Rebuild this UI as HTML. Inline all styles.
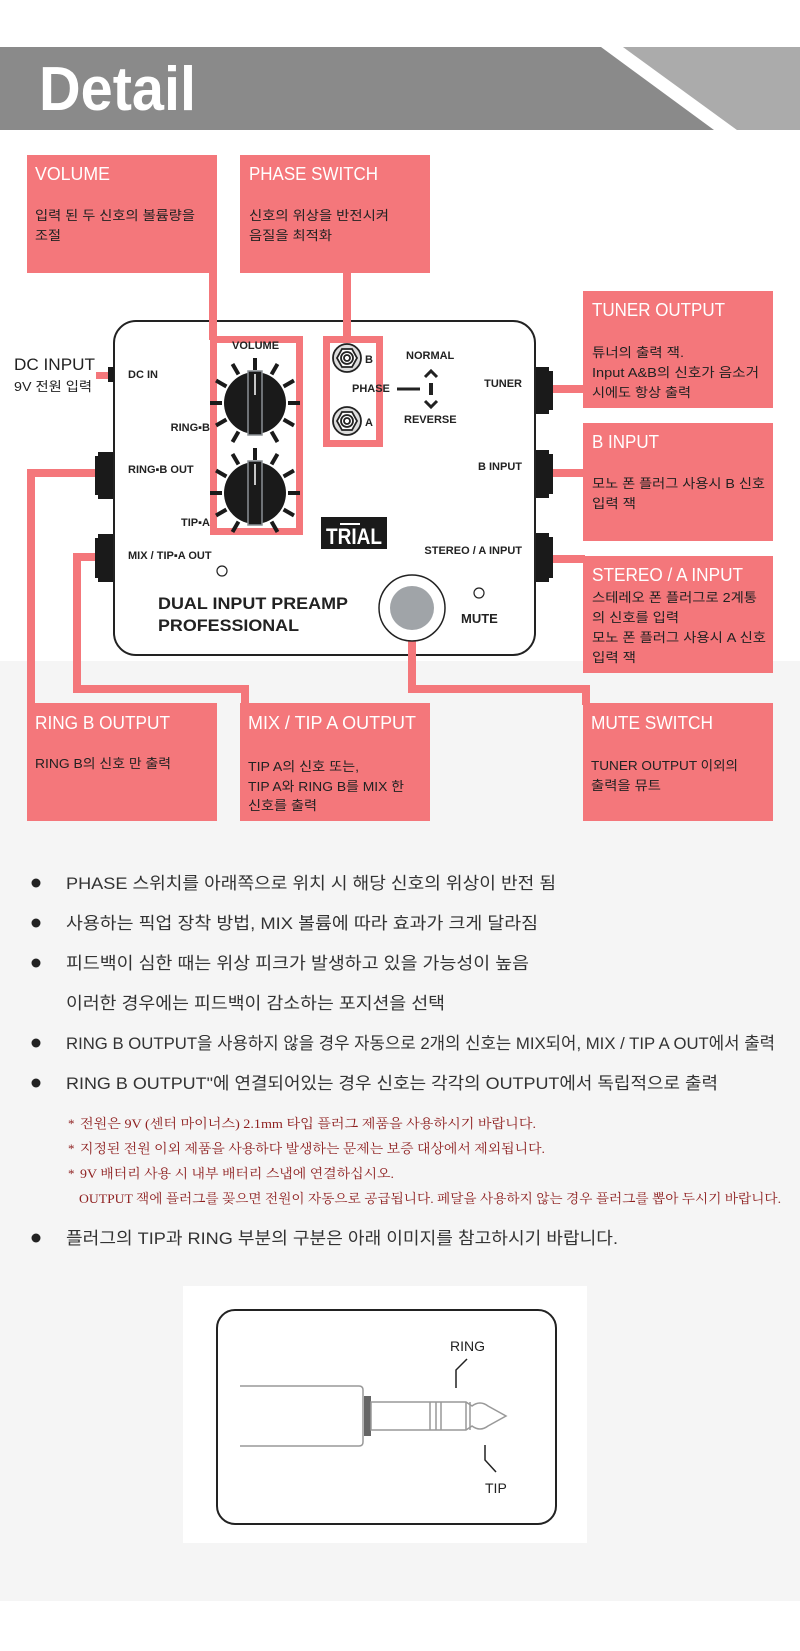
<!DOCTYPE html>
<html><head><meta charset="utf-8"><style>
html,body{margin:0;padding:0;background:#fff}
svg{display:block}
.k{font-family:"Liberation Sans","Noto Sans CJK KR",sans-serif}
.b{font-family:"Liberation Sans","Noto Sans CJK KR",sans-serif;font-weight:bold;fill:#222}
.t{font-family:"Liberation Sans","Noto Sans CJK KR",sans-serif;fill:#fff;font-size:18px}
.d{font-family:"Liberation Sans","Noto Sans CJK KR",sans-serif;fill:#222;font-size:13px}
.m{font-family:"Liberation Sans","Noto Sans CJK KR",sans-serif;fill:#333;font-size:17px}
.n{font-family:"Liberation Serif","Noto Serif CJK SC",serif;fill:#8e1f1f;font-size:13px}
</style></head><body>
<svg width="800" height="1651" viewBox="0 0 800 1651" xmlns="http://www.w3.org/2000/svg">
<rect x="0" y="0" width="800" height="1651" fill="#fff"/>
<rect x="0" y="661" width="800" height="940" fill="#f5f5f5"/>
<rect x="0" y="47" width="800" height="83" fill="#8a8a8a"/>
<polygon points="623,47 800,47 800,130 737,130" fill="#ababab"/>
<polygon points="601,47 623,47 737,130 714,130" fill="#fff"/>
<text x="39" y="110" class="k" font-size="62" font-weight="bold" fill="#fff" textLength="157" lengthAdjust="spacingAndGlyphs">Detail</text>

<g fill="#f4777b">
<rect x="209" y="270" width="8" height="70"/>
<rect x="343" y="270" width="8" height="70"/>
<rect x="545" y="385" width="40" height="8"/>
<rect x="552" y="469" width="33" height="8"/>
<rect x="552" y="555" width="33" height="8"/>
<rect x="27" y="469" width="72" height="8"/>
<rect x="27" y="469" width="8" height="236"/>
<rect x="73" y="553" width="26" height="8"/>
<rect x="73" y="553" width="8" height="140"/>
<rect x="73" y="685" width="176" height="8"/>
<rect x="241" y="685" width="8" height="20"/>
<rect x="408" y="640" width="8" height="53"/>
<rect x="408" y="685" width="182" height="8"/>
<rect x="582" y="685" width="8" height="20"/>
<rect x="96" y="372" width="14" height="7"/>
<rect x="27" y="155" width="190" height="118"/>
<rect x="240" y="155" width="190" height="118"/>
<rect x="583" y="291" width="190" height="117"/>
<rect x="583" y="423" width="190" height="118"/>
<rect x="583" y="556" width="190" height="117"/>
<rect x="27" y="703" width="190" height="118"/>
<rect x="240" y="703" width="190" height="118"/>
<rect x="583" y="703" width="190" height="118"/>
</g>
<text x="35" y="180" class="t" textLength="75" lengthAdjust="spacingAndGlyphs">VOLUME</text>
<text x="35" y="220" class="d" textLength="160" lengthAdjust="spacingAndGlyphs">입력 된 두 신호의 볼륨량을</text>
<text x="35" y="240" class="d" textLength="26" lengthAdjust="spacingAndGlyphs">조절</text>
<text x="249" y="180" class="t" textLength="129" lengthAdjust="spacingAndGlyphs">PHASE SWITCH</text>
<text x="249" y="220" class="d" textLength="140" lengthAdjust="spacingAndGlyphs">신호의 위상을 반전시켜</text>
<text x="249" y="240" class="d" textLength="83" lengthAdjust="spacingAndGlyphs">음질을 최적화</text>
<text x="592" y="316" class="t" textLength="133" lengthAdjust="spacingAndGlyphs">TUNER OUTPUT</text>
<text x="592" y="357" class="d" textLength="92" lengthAdjust="spacingAndGlyphs">튜너의 출력 잭.</text>
<text x="592" y="377" class="d" textLength="167" lengthAdjust="spacingAndGlyphs">Input A&amp;B의 신호가 음소거</text>
<text x="592" y="397" class="d" textLength="99" lengthAdjust="spacingAndGlyphs">시에도 항상 출력</text>
<text x="592" y="448" class="t" textLength="67" lengthAdjust="spacingAndGlyphs">B INPUT</text>
<text x="592" y="488" class="d" textLength="173" lengthAdjust="spacingAndGlyphs">모노 폰 플러그 사용시 B 신호</text>
<text x="592" y="508" class="d" textLength="44" lengthAdjust="spacingAndGlyphs">입력 잭</text>
<text x="592" y="581" class="t" textLength="151" lengthAdjust="spacingAndGlyphs">STEREO / A INPUT</text>
<text x="592" y="602" class="d" textLength="165" lengthAdjust="spacingAndGlyphs">스테레오 폰 플러그로 2계통</text>
<text x="592" y="622" class="d" textLength="87" lengthAdjust="spacingAndGlyphs">의 신호를 입력</text>
<text x="592" y="642" class="d" textLength="174" lengthAdjust="spacingAndGlyphs">모노 폰 플러그 사용시 A 신호</text>
<text x="592" y="662" class="d" textLength="44" lengthAdjust="spacingAndGlyphs">입력 잭</text>
<text x="35" y="729" class="t" textLength="135" lengthAdjust="spacingAndGlyphs">RING B OUTPUT</text>
<text x="35" y="768" class="d" textLength="136" lengthAdjust="spacingAndGlyphs">RING B의 신호 만 출력</text>
<text x="248" y="729" class="t" textLength="168" lengthAdjust="spacingAndGlyphs">MIX / TIP A OUTPUT</text>
<text x="248" y="771" class="d" textLength="111" lengthAdjust="spacingAndGlyphs">TIP A의 신호 또는,</text>
<text x="248" y="791" class="d" textLength="156" lengthAdjust="spacingAndGlyphs">TIP A와 RING B를 MIX 한</text>
<text x="248" y="810" class="d" textLength="69" lengthAdjust="spacingAndGlyphs">신호를 출력</text>
<text x="591" y="729" class="t" textLength="122" lengthAdjust="spacingAndGlyphs">MUTE SWITCH</text>
<text x="591" y="770" class="d" textLength="147" lengthAdjust="spacingAndGlyphs">TUNER OUTPUT 이외의</text>
<text x="591" y="790" class="d" textLength="70" lengthAdjust="spacingAndGlyphs">출력을 뮤트</text>

<text x="14" y="370" class="k" font-size="17" fill="#222" textLength="81" lengthAdjust="spacingAndGlyphs">DC INPUT</text>
<text x="14" y="391" class="k" font-size="13" fill="#222" textLength="78" lengthAdjust="spacingAndGlyphs">9V 전원 입력</text>

<rect x="114" y="321" width="421" height="334" rx="22" fill="#fff" stroke="#222" stroke-width="2"/>
<rect x="209" y="320" width="8" height="20" fill="#f4777b"/>
<rect x="343" y="320" width="8" height="20" fill="#f4777b"/>
<rect x="408" y="640" width="8" height="16" fill="#f4777b"/>
<rect x="213.5" y="339.5" width="86" height="192" fill="none" stroke="#f4777b" stroke-width="7"/>
<rect x="326.5" y="339.5" width="53" height="104" fill="none" stroke="#f4777b" stroke-width="7"/>
<g fill="#1a1a1a">
<rect x="108" y="367" width="6" height="15"/>
<rect x="98" y="452" width="15" height="47"/><rect x="95" y="456" width="4" height="39"/>
<rect x="98" y="534" width="15" height="48"/><rect x="95" y="538" width="4" height="40"/>
<rect x="536" y="367" width="13" height="47"/><rect x="549" y="371" width="4" height="39"/>
<rect x="536" y="450" width="13" height="48"/><rect x="549" y="454" width="4" height="40"/>
<rect x="536" y="533" width="13" height="49"/><rect x="549" y="537" width="4" height="41"/>
</g>
<g stroke="#1a1a1a" stroke-width="4">
<g transform="translate(255,403)">
<line x1="0" y1="-33" x2="0" y2="-45" transform="rotate(0)"/>
<line x1="0" y1="-33" x2="0" y2="-45" transform="rotate(30)"/>
<line x1="0" y1="-33" x2="0" y2="-45" transform="rotate(60)"/>
<line x1="0" y1="-33" x2="0" y2="-45" transform="rotate(90)"/>
<line x1="0" y1="-33" x2="0" y2="-45" transform="rotate(120)"/>
<line x1="0" y1="-33" x2="0" y2="-45" transform="rotate(150)"/>
<line x1="0" y1="-33" x2="0" y2="-45" transform="rotate(-30)"/>
<line x1="0" y1="-33" x2="0" y2="-45" transform="rotate(-60)"/>
<line x1="0" y1="-33" x2="0" y2="-45" transform="rotate(-90)"/>
<line x1="0" y1="-33" x2="0" y2="-45" transform="rotate(-120)"/>
<line x1="0" y1="-33" x2="0" y2="-45" transform="rotate(-150)"/>
<circle r="31" fill="#1a1a1a" stroke="none"/>
<rect x="-7" y="-32" width="14" height="64" fill="#1a1a1a" stroke="#8a8f94" stroke-width="1.5"/>
<line x1="0" y1="-29" x2="0" y2="-8" stroke="#fff" stroke-width="1.5"/>
</g>
<g transform="translate(255,493)">
<line x1="0" y1="-33" x2="0" y2="-45" transform="rotate(0)"/>
<line x1="0" y1="-33" x2="0" y2="-45" transform="rotate(30)"/>
<line x1="0" y1="-33" x2="0" y2="-45" transform="rotate(60)"/>
<line x1="0" y1="-33" x2="0" y2="-45" transform="rotate(90)"/>
<line x1="0" y1="-33" x2="0" y2="-45" transform="rotate(120)"/>
<line x1="0" y1="-33" x2="0" y2="-45" transform="rotate(150)"/>
<line x1="0" y1="-33" x2="0" y2="-45" transform="rotate(-30)"/>
<line x1="0" y1="-33" x2="0" y2="-45" transform="rotate(-60)"/>
<line x1="0" y1="-33" x2="0" y2="-45" transform="rotate(-90)"/>
<line x1="0" y1="-33" x2="0" y2="-45" transform="rotate(-120)"/>
<line x1="0" y1="-33" x2="0" y2="-45" transform="rotate(-150)"/>
<circle r="31" fill="#1a1a1a" stroke="none"/>
<rect x="-7" y="-32" width="14" height="64" fill="#1a1a1a" stroke="#8a8f94" stroke-width="1.5"/>
<line x1="0" y1="-29" x2="0" y2="-8" stroke="#fff" stroke-width="1.5"/>
</g>
</g>
<g fill="none" stroke="#222" stroke-width="1.8">
<circle cx="347" cy="358" r="14" fill="#ddd"/>
<polygon points="357,358 352,367 342,367 337,358 342,349 352,349" fill="#fff"/>
<circle cx="347" cy="358" r="6"/><circle cx="347" cy="358" r="3"/>
<circle cx="347" cy="421" r="14" fill="#ddd"/>
<polygon points="357,421 352,430 342,430 337,421 342,412 352,412" fill="#fff"/>
<circle cx="347" cy="421" r="6"/><circle cx="347" cy="421" r="3"/>
</g>
<g class="b" font-size="11">
<text x="232" y="349">VOLUME</text>
<text x="128" y="378">DC IN</text>
<text x="210" y="431" text-anchor="end">RING▪B</text>
<text x="128" y="473">RING▪B OUT</text>
<text x="210" y="526" text-anchor="end">TIP▪A</text>
<text x="128" y="559">MIX / TIP▪A OUT</text>
<text x="365" y="363">B</text>
<text x="365" y="426">A</text>
<text x="352" y="392">PHASE</text>
<text x="406" y="359">NORMAL</text>
<text x="404" y="423">REVERSE</text>
<text x="522" y="387" text-anchor="end">TUNER</text>
<text x="522" y="470" text-anchor="end">B  INPUT</text>
<text x="522" y="554" text-anchor="end">STEREO / A  INPUT</text>
</g>
<line x1="397" y1="389" x2="420" y2="389" stroke="#222" stroke-width="3"/>
<line x1="431" y1="383" x2="431" y2="395" stroke="#222" stroke-width="4"/>
<polyline points="425,377 431,371 437,377" fill="none" stroke="#222" stroke-width="3"/>
<polyline points="425,401 431,407 437,401" fill="none" stroke="#222" stroke-width="3"/>
<circle cx="222" cy="571" r="5" fill="#fff" stroke="#222" stroke-width="1.2"/>
<circle cx="479" cy="593" r="5" fill="#fff" stroke="#222" stroke-width="1.2"/>
<text x="158" y="609" class="b" font-size="17" textLength="190" lengthAdjust="spacingAndGlyphs">DUAL INPUT PREAMP</text>
<text x="158" y="631" class="b" font-size="17" textLength="141" lengthAdjust="spacingAndGlyphs">PROFESSIONAL</text>
<text x="461" y="623" class="b" font-size="13">MUTE</text>
<circle cx="412" cy="608" r="33" fill="#fff" stroke="#222" stroke-width="1.5"/>
<circle cx="412" cy="608" r="22" fill="#a0a4a8"/>
<rect x="321" y="517" width="66" height="32" fill="#1a1a1a"/>
<text x="354" y="544" text-anchor="middle" class="k" font-size="22" font-weight="bold" fill="#fff" textLength="56" lengthAdjust="spacingAndGlyphs">TRIAL</text>
<line x1="340" y1="524" x2="360" y2="524" stroke="#fff" stroke-width="2"/>

<g fill="#222">
<circle cx="36" cy="883" r="4.5"/><circle cx="36" cy="923" r="4.5"/><circle cx="36" cy="963" r="4.5"/>
<circle cx="36" cy="1043" r="4.5"/><circle cx="36" cy="1083" r="4.5"/><circle cx="36" cy="1238" r="4.5"/>
</g>
<text x="66" y="889" class="m" textLength="490" lengthAdjust="spacingAndGlyphs">PHASE 스위치를 아래쪽으로 위치 시 해당 신호의 위상이 반전 됨</text>
<text x="66" y="929" class="m" textLength="472" lengthAdjust="spacingAndGlyphs">사용하는 픽업 장착 방법, MIX 볼륨에 따라 효과가 크게 달라짐</text>
<text x="66" y="969" class="m" textLength="463" lengthAdjust="spacingAndGlyphs">피드백이 심한 때는 위상 피크가 발생하고 있을 가능성이 높음</text>
<text x="66" y="1009" class="m" textLength="379" lengthAdjust="spacingAndGlyphs">이러한 경우에는 피드백이 감소하는 포지션을 선택</text>
<text x="66" y="1049" class="m" textLength="709" lengthAdjust="spacingAndGlyphs">RING B OUTPUT을 사용하지 않을 경우 자동으로 2개의 신호는 MIX되어, MIX / TIP A OUT에서 출력</text>
<text x="66" y="1089" class="m" textLength="652" lengthAdjust="spacingAndGlyphs">RING B OUTPUT"에 연결되어있는 경우 신호는 각각의 OUTPUT에서 독립적으로 출력</text>
<text x="68" y="1128" class="n">*</text><text x="80" y="1128" class="n" textLength="456" lengthAdjust="spacingAndGlyphs">전원은 9V (센터 마이너스) 2.1mm 타입 플러그 제품을 사용하시기 바랍니다.</text>
<text x="68" y="1153" class="n">*</text><text x="80" y="1153" class="n" textLength="465" lengthAdjust="spacingAndGlyphs">지정된 전원 이외 제품을 사용하다 발생하는 문제는 보증 대상에서 제외됩니다.</text>
<text x="68" y="1178" class="n">*</text><text x="80" y="1178" class="n" textLength="314" lengthAdjust="spacingAndGlyphs">9V 배터리 사용 시 내부 배터리 스냅에 연결하십시오.</text>
<text x="79" y="1203" class="n" textLength="702" lengthAdjust="spacingAndGlyphs">OUTPUT 잭에 플러그를 꽂으면 전원이 자동으로 공급됩니다. 페달을 사용하지 않는 경우 플러그를 뽑아 두시기 바랍니다.</text>
<text x="66" y="1244" class="m" textLength="552" lengthAdjust="spacingAndGlyphs">플러그의 TIP과 RING 부분의 구분은 아래 이미지를 참고하시기 바랍니다.</text>

<rect x="183" y="1286" width="404" height="257" fill="#fff"/>
<rect x="217" y="1310" width="339" height="214" rx="18" fill="#fff" stroke="#222" stroke-width="2"/>
<path d="M240,1386 H359 Q363,1386 363,1390 V1442 Q363,1446 359,1446 H240" fill="none" stroke="#999" stroke-width="1.5"/>
<rect x="364" y="1396" width="7" height="40" fill="#666"/>
<path d="M371,1402 H466 L472,1406 Q480,1400 488,1406 L506,1416 L488,1426 Q480,1432 472,1426 L466,1430 H371 Z" fill="#fff" stroke="#999" stroke-width="1.5"/>
<g stroke="#999" stroke-width="1.5">
<line x1="430" y1="1402" x2="430" y2="1430"/><line x1="436" y1="1402" x2="436" y2="1430"/><line x1="441" y1="1402" x2="441" y2="1430"/>
<line x1="466" y1="1402" x2="466" y2="1430"/><line x1="470" y1="1402" x2="470" y2="1430"/>
</g>
<polyline points="456,1388 456,1370 467,1359" fill="none" stroke="#222" stroke-width="1.5"/>
<polyline points="485,1445 485,1460 496,1472" fill="none" stroke="#222" stroke-width="1.5"/>
<text x="450" y="1351" class="k" font-size="14" fill="#222">RING</text>
<text x="485" y="1493" class="k" font-size="14" fill="#222">TIP</text>
</svg>
</body></html>
